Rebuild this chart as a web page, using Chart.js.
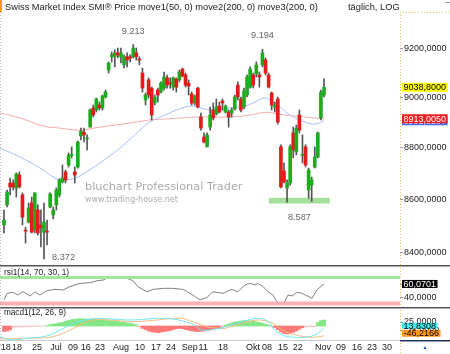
<!DOCTYPE html>
<html lang="de">
<head>
<meta charset="UTF-8">
<title>SMI</title>
<script src="https://cdn.jsdelivr.net/npm/chart.js@4.4.0/dist/chart.umd.min.js"></script>
<style>
  html, body { margin: 0; padding: 0; background: #fff; }
  #wrap { position: relative; width: 450px; height: 354px; overflow: hidden; }
  canvas { position: absolute; left: 0; }
</style>
</head>
<body>
<div id="wrap">
  <canvas id="price" width="450" height="265" style="top:0px"></canvas>
  <canvas id="rsi" width="450" height="42" style="top:265px"></canvas>
  <canvas id="macd" width="450" height="47" style="top:307px"></canvas>
</div>
<script>
// daily candles, 11 Jun 2018 .. 5 Nov 2018 (one slot per trading day)
const opens  = [8500,8577,8661,8661,8642,8692,8615,8479,8511,8584, 8481,8557,8500,8473,8477,8569,8538,8577,8615,8665,
                8704,8731,8768,8704,8723,8845,8860,8833,8880,8956, 8948,8968,8956,9000,9109,9163,9163,9179,9163,9130,
                9163,9163,9163,9179,9154,9097,8988,9069,9036,8976, 9028,9020,9036,9077,9058,9040,9073,9069,9113,9089,
                9056,9012,8976,9036,8920,8841,8802,8880,8948,8932, 8964,8984,8940,8940,8936,8952,9048,8992,8960,9008,
                9040,9089,9093,9089,9130,9150,9089,9016,8960,8992, 8802,8708,8642,8661,8857,8782,8928,8768,8802,8634,
                8653,8723,8762,8916,9008];
const highs  = [8557,8634,8680,8673,8700,8704,8623,8492,8584,8607, 8623,8577,8557,8584,8519,8623,8569,8642,8677,8731,
                8711,8778,8802,8723,8825,8876,8876,8849,8952,8968, 8996,8980,9008,9028,9142,9183,9191,9199,9199,9171,
                9179,9171,9213,9199,9163,9117,9016,9077,9040,9008, 9036,9061,9101,9089,9077,9081,9077,9109,9117,9097,
                9069,9020,9008,9040,8936,8857,8857,8960,8976,8992, 8980,8992,8968,8948,8956,9008,9061,9000,9036,9089,
                9122,9097,9142,9101,9194,9158,9097,9020,8980,9000, 8810,8739,8673,8810,8880,8888,8948,8849,8810,8719,
                8684,8802,8860,9028,9073];
const lows   = [8470,8569,8615,8634,8607,8642,8500,8432,8508,8470, 8470,8462,8417,8372,8425,8565,8523,8557,8607,8661,
                8661,8723,8759,8661,8719,8829,8821,8790,8880,8920, 8940,8948,8948,8996,9097,9142,9122,9158,9138,9118,
                9122,9142,9158,9150,9130,9020,8968,8996,8908,8968, 8980,9016,9028,9036,9036,9028,9020,9061,9081,9040,
                9008,8968,8968,8956,8868,8817,8802,8868,8908,8928, 8936,8948,8936,8880,8920,8948,8988,8940,8952,9000,
                9036,9036,9081,9040,9122,9089,9036,8948,8940,8892, 8642,8661,8587,8653,8759,8770,8857,8739,8723,8603,
                8590,8719,8759,8908,9000];
const closes = [8519,8626,8646,8645,8696,8646,8530,8477,8565,8473, 8623,8470,8489,8511,8473,8619,8557,8634,8673,8680,
                8673,8770,8772,8692,8821,8864,8849,8837,8948,8928, 8992,8956,9004,9020,9138,9171,9179,9171,9179,9163,
                9150,9158,9199,9163,9150,9036,9008,9008,8928,9000, 9008,9056,9081,9048,9054,9077,9040,9101,9085,9048,
                9044,8976,9004,8960,8876,8821,8849,8928,8916,8960, 8940,8976,8964,8920,8948,9000,9000,8948,9024,9081,
                9113,9048,9130,9081,9179,9097,9040,8968,8968,8900, 8646,8665,8661,8802,8790,8876,8868,8772,8731,8711,
                8673,8762,8857,9020,9038.8];

// moving averages (slot, value)
const ma50Slots  = [-1.3,5.2,11.7,16.6,19.2,23.1,26.3,31.2,37.7,44.2,47.4,52.3,58.8,61.4,65.3,68.6,73.4,78.3,81.6,84.8,88.1,92.9,97.8,101.1,104];
const ma50Vals   = [8797,8762,8719,8680,8673,8680,8700,8739,8797,8868,8900,8928,8960,8964,8952,8948,8956,8964,8980,8996,8976,8928,8900,8892,8905.0207];
const ma200Slots = [-1.3,5.2,12.7,18.2,24.7,31.2,41,47.4,52.3,63.7,73.4,80,83.2,86,89.7,96,101,104];
const ma200Vals  = [8936,8916,8884,8876,8868,8880,8896,8908,8912,8920,8920,8928,8936,8938,8930,8922,8916,8913.005];

const priceTicks = [8400, 8600, 8800, 9000, 9200];
const supportZone = { from: 86.1, to: 105.9, low: 8582, high: 8604, label: 8587 };
const markIdx = { high1: 42, high2: 84, low1: 13 };

// RSI(14)
const rsiSlots = [0,1,2.9,4.5,6.2,8.4,10.1,11.7,14,16.6, 19.2,21.4,24.7,28,30.2,32.2,34.4,36.7,40,41.9,
                  43.5,46.5,48.4,51.7,54.9,58.2,61.4,63.7,66,67.9, 71.2,74.1,76,78.3,79.9,81.6,82.5,84.2,85.8,87.4,
                  89,91,92.3,93.6,95.2,96.8,100.1,101.7,103.3,104];
const rsiVals  = [35.4,45.7,47.2,43,48.2,41.5,48,43,49.7,51.8, 50.8,55.9,61,62,65,66,71.3,70.5,68.7,65,
                  55.9,48,51.7,53.3,53.3,51.7,43,35.4,39.5,48, 45.7,51.7,48,58.5,61,58.5,61,56,48,43,
                  30.3,31.3,43,41.5,47,45.7,38,50.8,57.4,60.0701];
const rsiTicks = [40, 60];
const rsiLevels = [70, 30];

// MACD(12,26,9)
const histVals = [-30,-28,-22,-6,-5,-4,-5,-4,-3,-4, -3,-2,-2,-1,2,8,11,14,17,20,
                  26,31,35,38,40,41,40,39,39,37, 35,33,32,31,30,29,27,25,23,20,
                  17,15,11,6,-5,-13,-20,-28,-32,-35, -37,-34,-31,-28,-25,-20,-15,-13,-15,-20,
                  -23,-27,-30,-31,-30,-28,-25,-22,-18,-15, -12,-6,5,11,17,22,25,28,30,30,
                  28,26,23,20,15,10,4,0,-8,-20, -33,-42,-44,-41,-35,-28,-18,-10,-5,-4,
                  -4,-3,20,30,33];
const macdSlots = [-1.3,3,7.5,11.7,15,18.2,21.4,24.7,28,30.2,35,40,45,50,55,58,62,64,69,72,77.4,82.5,86,88,91.3,94.6,97.8,101,104];
const macdVals  = [-56,-80,-66,-58,-40,0,40,72,86,94,88,80,84,94,88,72,40,0,8,26,66,94,66,0,-48,-58,-58,-40,13.8308];
const signalSlots = [-1.3,7.5,15,20.5,24.7,29,34.5,41.9,49.7,57.2,61.4,66,70.2,72,77.4,82.5,87.1,90.3,93.6,97.8,101,104];
const signalVals  = [-72,-66,-58,-14,40,80,80,66,80,94,66,26,14,14,54,80,58,0,-32,-54,-58,-46.2166];
const macdTicks = [25, -25];

// x axis
const tickSlots  = [0.3,4.2,10.7,16.9,22.4,26.6,31.2,38,44.2,49.4,54.3,60.4,64.7,71.2,80.9,85.5,90.7,95.5,103.7,109.5,114.7,119.6,124.5];
const tickLabels = ["'18",'18','25','Jul','09','16','23','Aug','10','17','24','Sep','11','18','Okt','08','15','22','Nov','09','16','23','30'];
const xMin = -1.3, xMax = 128.7;

const FONT = '"Liberation Sans", Arial, sans-serif';
const slots = opens.map((_, i) => i);
const pts = (xs, ys) => xs.map((x, i) => ({ x: x, y: ys[i] }));
const fmt4 = v => v.toFixed(4).replace('.', ',');
const fmtK = v => { const s = String(Math.round(v)); return s.slice(0, -3) + '.' + s.slice(-3); };

function rightFrame(ctx, chart, top, bottom) {
  ctx.save();
  ctx.strokeStyle = '#ecc34a';
  ctx.setLineDash([1, 2]);
  ctx.beginPath();
  ctx.moveTo(chart.chartArea.right + 0.5, top);
  ctx.lineTo(chart.chartArea.right + 0.5, bottom);
  ctx.stroke();
  ctx.strokeStyle = '#b8b8b8';
  ctx.beginPath();
  ctx.moveTo(0.5, chart.chartArea.top);
  ctx.lineTo(0.5, chart.chartArea.bottom);
  ctx.stroke();
  ctx.restore();
}
function axisLabel(ctx, txt, y) {
  ctx.strokeStyle = '#999';
  ctx.beginPath(); ctx.moveTo(400, Math.round(y) + 0.5); ctx.lineTo(403, Math.round(y) + 0.5); ctx.stroke();
  ctx.fillStyle = '#222';
  ctx.font = '9px ' + FONT;
  ctx.textAlign = 'left'; ctx.textBaseline = 'middle';
  ctx.fillText(txt, 404, y + 0.5);
}
function valueBox(ctx, txt, y, bg, fg, h) {
  ctx.font = '9px ' + FONT;
  const w = ctx.measureText(txt).width + 3;
  ctx.fillStyle = bg;
  ctx.fillRect(402, y - h / 2, w, h);
  ctx.fillStyle = fg;
  ctx.textAlign = 'left'; ctx.textBaseline = 'middle';
  ctx.fillText(txt, 403.5, y + 0.5);
}

const pricePlugin = {
  id: 'pricePlugin',
  beforeDatasetsDraw(chart) {
    const { ctx, scales: { x, y } } = chart;
    ctx.save();
    ctx.fillStyle = '#a4e09c';
    const x0 = x.getPixelForValue(supportZone.from), x1 = x.getPixelForValue(supportZone.to);
    const y0 = y.getPixelForValue(supportZone.high), y1 = y.getPixelForValue(supportZone.low);
    ctx.fillRect(x0, y0, x1 - x0, y1 - y0);
    // watermark
    ctx.fillStyle = '#ababab';
    ctx.textAlign = 'left'; ctx.textBaseline = 'middle';
    ctx.font = '11.3px "DejaVu Sans", sans-serif';
    ctx.fillText('bluchart Professional Trader', 85, 187);
    ctx.font = '8px "DejaVu Sans", sans-serif';
    ctx.fillText('www.trading-house.net', 85, 200);
    ctx.restore();
  },
  afterDraw(chart) {
    const { ctx, scales: { x, y } } = chart;
    ctx.save();
    rightFrame(ctx, chart, 12, 265);
    ctx.strokeStyle = '#ecc34a'; ctx.setLineDash([1, 2]);
    ctx.beginPath(); ctx.moveTo(400, 12.5); ctx.lineTo(450, 12.5); ctx.stroke();
    ctx.setLineDash([]);
    // title
    ctx.fillStyle = '#f39a1e';
    ctx.fillRect(0, 0, 2, 12);
    ctx.fillStyle = '#999'; ctx.fillRect(445, 2, 5, 1);
    ctx.fillStyle = '#222';
    ctx.font = '9.3px ' + FONT;
    ctx.textAlign = 'left'; ctx.textBaseline = 'middle';
    ctx.fillText('Swiss Market Index SMI\u00ae Price move1(50, 0) move2(200, 0) move3(200, 0)', 5, 7);
    ctx.fillText('t\u00e4glich, LOG', 348, 7);
    // peak / trough labels
    ctx.fillStyle = '#666';
    ctx.font = '9.2px ' + FONT;
    ctx.textAlign = 'center';
    [markIdx.high1, markIdx.high2].forEach(i => {
      ctx.fillText(fmtK(highs[i]), x.getPixelForValue(i), y.getPixelForValue(highs[i]) - 13.5);
    });
    ctx.textAlign = 'left';
    ctx.fillText(fmtK(lows[markIdx.low1]), x.getPixelForValue(markIdx.low1) + 8, y.getPixelForValue(lows[markIdx.low1]) - 2);
    ctx.textAlign = 'center';
    ctx.fillText(fmtK(supportZone.label), x.getPixelForValue((supportZone.from + supportZone.to) / 2),
                 y.getPixelForValue(supportZone.label) + 15);
    // right axis
    priceTicks.forEach(v => axisLabel(ctx, fmt4(v), y.getPixelForValue(v)));
    const n = closes.length - 1;
    valueBox(ctx, fmt4(closes[n]), y.getPixelForValue(closes[n]), '#ffff00', '#000', 9);
    valueBox(ctx, fmt4(ma50Vals[ma50Vals.length - 1]), y.getPixelForValue(ma50Vals[ma50Vals.length - 1]), '#3f6cf0', '#fff', 9);
    valueBox(ctx, fmt4(ma200Vals[ma200Vals.length - 1]), y.getPixelForValue(ma200Vals[ma200Vals.length - 1]), '#f41c1c', '#fff', 9);
    ctx.restore();
  }
};

new Chart(document.getElementById('price'), {
  type: 'bar',
  data: {
    datasets: [
      { label: 'wick', data: slots.map(i => ({ x: i, y: [lows[i], highs[i]] })),
        backgroundColor: '#555', barThickness: 1, grouped: false, order: 1 },
      { label: 'body', data: slots.map(i => ({ x: i, y: [opens[i], closes[i]] })),
        backgroundColor: slots.map(i => closes[i] >= opens[i] ? '#1dac1d' : '#e41b1b'),
        barThickness: 3, grouped: false, minBarLength: 1, order: 0 },
      { type: 'line', label: 'move1(50)', data: pts(ma50Slots, ma50Vals), borderColor: '#a9befb',
        borderWidth: 1, pointRadius: 0, tension: 0.4, order: 2 },
      { type: 'line', label: 'move2(200)', data: pts(ma200Slots, ma200Vals), borderColor: '#f8abab',
        borderWidth: 1, pointRadius: 0, tension: 0.4, order: 3 }
    ]
  },
  options: {
    responsive: false, animation: false, events: [],
    layout: { padding: { top: 12, left: 0, right: 0, bottom: 0 } },
    plugins: { legend: { display: false }, tooltip: { enabled: false } },
    scales: {
      x: { type: 'linear', min: xMin, max: xMax, bounds: 'data', offset: false, display: false },
      y: { type: 'logarithmic', position: 'right', min: 8349.7, max: 9348.1, bounds: 'data',
           ticks: { display: false }, grid: { display: false }, border: { display: false },
           afterFit(s) { s.width = 50; } }
    }
  },
  plugins: [pricePlugin]
});

const rsiPlugin = {
  id: 'rsiPlugin',
  afterDraw(chart) {
    const { ctx, scales: { y } } = chart;
    ctx.save();
    rightFrame(ctx, chart, 0, 42);
    ctx.fillStyle = '#555';
    ctx.fillRect(0, 0, 450, 1.5);
    ctx.fillStyle = '#222';
    ctx.font = '8.3px ' + FONT;
    ctx.textAlign = 'left'; ctx.textBaseline = 'middle';
    ctx.fillText('rsi1(14, 70, 30, 1)', 4, 8);
    rsiTicks.forEach(v => axisLabel(ctx, fmt4(v), y.getPixelForValue(v)));
    const last = rsiVals[rsiVals.length - 1];
    valueBox(ctx, fmt4(last), y.getPixelForValue(last), '#000', '#fff', 8);
    ctx.restore();
  }
};

new Chart(document.getElementById('rsi'), {
  type: 'line',
  data: {
    datasets: [
      { data: [{ x: xMin, y: rsiLevels[0] }, { x: 400 / 3.077, y: rsiLevels[0] }], borderColor: '#9ee89a', borderWidth: 3, pointRadius: 0 },
      { data: [{ x: xMin, y: rsiLevels[1] }, { x: 400 / 3.077, y: rsiLevels[1] }], borderColor: '#ffb0b0', borderWidth: 4, pointRadius: 0 },
      { data: pts(rsiSlots, rsiVals), borderColor: '#808080', borderWidth: 1, pointRadius: 0, tension: 0 }
    ]
  },
  options: {
    responsive: false, animation: false, events: [],
    layout: { padding: 0 },
    plugins: { legend: { display: false }, tooltip: { enabled: false } },
    scales: {
      x: { type: 'linear', min: xMin, max: xMax, bounds: 'data', display: false },
      y: { type: 'linear', position: 'right', min: 24.6, max: 89.2, bounds: 'data',
           ticks: { display: false }, grid: { display: false }, border: { display: false },
           afterFit(s) { s.width = 50; } }
    }
  },
  plugins: [rsiPlugin]
});

const macdPlugin = {
  id: 'macdPlugin',
  afterDraw(chart) {
    const { ctx, chartArea: a, scales: { x, y, yl } } = chart;
    ctx.save();
    rightFrame(ctx, chart, 0, 47);
    ctx.fillStyle = '#555';
    ctx.fillRect(0, 0, 450, 1.5);
    ctx.fillStyle = '#c8c8c8';
    ctx.fillRect(0, a.bottom, 400, 1);
    ctx.fillStyle = '#22305a';
    ctx.fillRect(400, a.bottom, 50, 1.5);
    ctx.fillStyle = '#222';
    ctx.font = '8.2px ' + FONT;
    ctx.textAlign = 'left'; ctx.textBaseline = 'middle';
    ctx.fillText('macd1(12, 26, 9)', 4, 6);
    macdTicks.forEach(v => axisLabel(ctx, fmt4(v), y.getPixelForValue(v)));
    const m = macdVals[macdVals.length - 1], s = signalVals[signalVals.length - 1];
    valueBox(ctx, fmt4(m), yl.getPixelForValue(m) - 2.5, '#3ff0f0', '#000', 6);
    valueBox(ctx, fmt4(s), yl.getPixelForValue(s) - 2.5, '#ff9a1a', '#000', 7);
    // date axis
    ctx.fillStyle = '#222';
    ctx.font = '9px ' + FONT;
    ctx.textAlign = 'center';
    tickSlots.forEach((v, i) => ctx.fillText(tickLabels[i], x.getPixelForValue(v), a.bottom + 8));
    ctx.fillStyle = '#2a48c8';
    ctx.font = '5px ' + FONT;
    ctx.fillText('\u25b2', 425, a.bottom + 7.5);
    ctx.restore();
  }
};

new Chart(document.getElementById('macd'), {
  type: 'bar',
  data: {
    datasets: [
      { type: 'line', data: pts(macdSlots, macdVals), yAxisID: 'yl', borderColor: '#6fe6f2',
        borderWidth: 1, pointRadius: 0, tension: 0.35, order: 0 },
      { type: 'line', data: pts(signalSlots, signalVals), yAxisID: 'yl', borderColor: '#f6bb7c',
        borderWidth: 1, pointRadius: 0, tension: 0.35, order: 1 },
      { data: slots.map(i => ({ x: i, y: histVals[i] })), yAxisID: 'y',
        backgroundColor: histVals.map(v => v >= 0 ? '#84e684' : (v > -8 ? '#ffc2c2' : '#ff7878')),
        barPercentage: 1, categoryPercentage: 1, order: 2 }
    ]
  },
  options: {
    responsive: false, animation: false, events: [],
    layout: { padding: { top: 0, left: 0, right: 0, bottom: 14 } },
    plugins: { legend: { display: false }, tooltip: { enabled: false } },
    scales: {
      x: { type: 'linear', min: xMin, max: xMax, bounds: 'data', offset: false, display: false },
      y: { type: 'linear', position: 'right', min: -77.8, max: 105.6, bounds: 'data',
           ticks: { display: false }, grid: { display: false }, border: { display: false },
           afterFit(s) { s.width = 50; } },
      yl: { type: 'linear', display: false, min: -80, max: 184, bounds: 'data' }
    }
  },
  plugins: [macdPlugin]
});
</script>
</body>
</html>
